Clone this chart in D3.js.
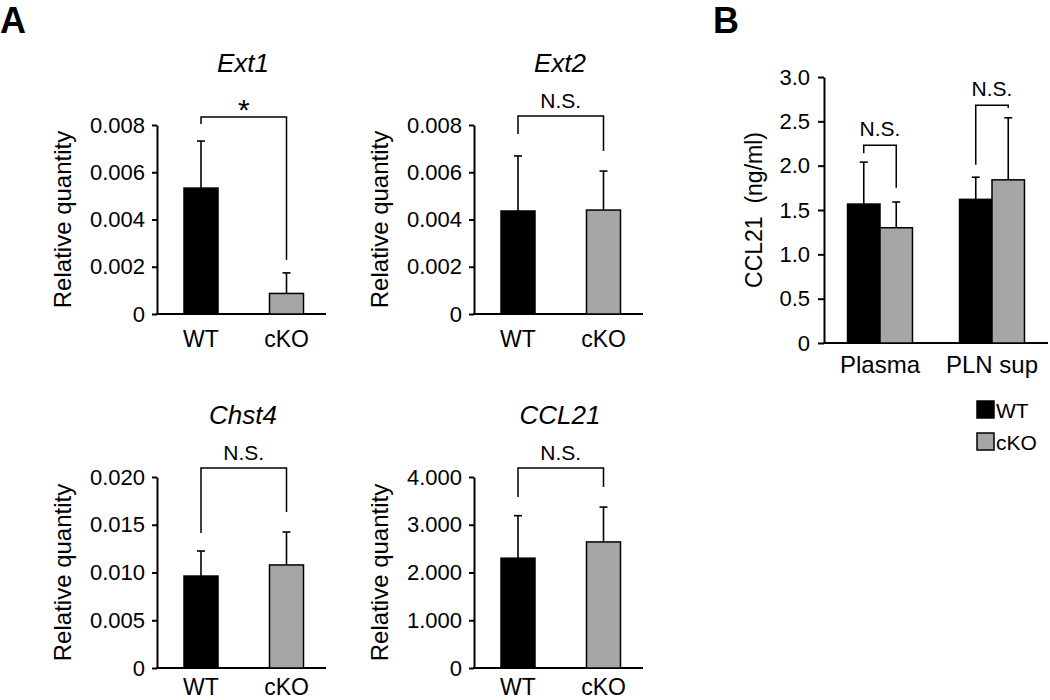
<!DOCTYPE html>
<html><head><meta charset="utf-8">
<script src="https://cdn.jsdelivr.net/npm/d3@7"></script>
<style>body{margin:0;background:#fff}svg{display:block;font-family:"Liberation Sans",Arial,sans-serif}</style>
</head><body>
<svg id="c" width="1050" height="700"></svg>
<script>
// ---------- data ----------
const groups = ["WT", "cKO"];

const ext1Values = [0.00533, 0.00087];
const ext1Errors = [0.00199, 0.00087];
const ext1Ticks = ["0", "0.002", "0.004", "0.006", "0.008"];
const ext1Bracket = [0.00834, 0.00804, 0.00229]; // top, left end, right end

const ext2Values = [0.00436, 0.00440];
const ext2Errors = [0.00233, 0.00165];
const ext2Ticks = ["0", "0.002", "0.004", "0.006", "0.008"];
const ext2Bracket = [0.00838, 0.00762, 0.00690];

const chst4Values = [0.00963, 0.01079];
const chst4Errors = [0.00262, 0.00345];
const chst4Ticks = ["0", "0.005", "0.010", "0.015", "0.020"];
const chst4Bracket = [0.02094, 0.01414, 0.01634];

const ccl21Values = [2.30, 2.64];
const ccl21Errors = [0.89, 0.73];
const ccl21Ticks = ["0", "1.000", "2.000", "3.000", "4.000"];
const ccl21Bracket = [4.19, 3.58, 3.79];

const bCategories = ["Plasma", "PLN sup"];
const bWT = [1.567, 1.62];
const bWTErr = [0.473, 0.25];
const bCKO = [1.30, 1.84];
const bCKOErr = [0.29, 0.70];
const bTicks = ["0", "0.5", "1.0", "1.5", "2.0", "2.5", "3.0"];
const bBrackets = [[2.23, 2.14, 1.75], [2.68, 2.01, 2.65]];

// ---------- drawing ----------
const svg = d3.select("#c");
const FILL = {WT: "#000000", cKO: "#a6a6a6"};

function errBar(g, x, y0, y1) {
  g.append("line").attr("x1", x).attr("x2", x).attr("y1", y0).attr("y2", y1)
    .attr("stroke", "#000").attr("stroke-width", 1.6);
  g.append("line").attr("x1", x - 4).attr("x2", x + 4).attr("y1", y1).attr("y2", y1)
    .attr("stroke", "#000").attr("stroke-width", 1.6);
}
function bracket(g, xl, xr, ty, yl, yr, label, fs, dy) {
  g.append("path").attr("d", `M${xl},${yl}V${ty}H${xr}V${yr}`)
    .attr("fill", "none").attr("stroke", "#000").attr("stroke-width", 1.5);
  g.append("text").attr("x", (xl + xr) / 2).attr("y", ty - dy).attr("text-anchor", "middle")
    .attr("font-size", fs).text(label);
}

function panelA(opt) {
  const g = svg.append("g");
  const y = d3.scaleLinear().domain([0, opt.max]).range([opt.y0, opt.y1]);
  const x = d3.scalePoint().domain(groups).range([opt.ax + 44, opt.ax + 129.5]);
  const tickVals = opt.ticks.map((t, i) => opt.max * i / (opt.ticks.length - 1));
  const yAxis = d3.axisLeft(y).tickValues(tickVals).tickFormat((d, i) => opt.ticks[i])
    .tickSize(5).tickPadding(7).tickSizeOuter(0);
  const ga = g.append("g").attr("transform", `translate(${opt.ax},0)`).call(yAxis);
  ga.select(".domain").attr("stroke-width", 2);
  ga.selectAll(".tick line").attr("stroke-width", 2);
  ga.selectAll("text").attr("font-size", 22).attr("font-family", "Liberation Sans, Arial").attr("fill", "#000");
  // x axis
  g.append("line").attr("x1", opt.ax - 1).attr("x2", opt.ax + 169).attr("y1", opt.y0).attr("y2", opt.y0)
    .attr("stroke", "#000").attr("stroke-width", 2);
  const bw = 34;
  groups.forEach((k, i) => {
    const v = opt.values[i];
    errBar(g, x(k), y(v), y(v + opt.errors[i]));
    g.append("rect").attr("x", x(k) - bw / 2).attr("y", y(v)).attr("width", bw).attr("height", opt.y0 - y(v))
      .attr("fill", FILL[k]).attr("stroke", "#000").attr("stroke-width", 1.5);
    g.append("text").attr("x", x(k)).attr("y", opt.y0 + opt.xlab).attr("text-anchor", "middle")
      .attr("font-size", 23).text(k);
  });
  const star = opt.sig === "*";
  bracket(g, x("WT"), x("cKO"), y(opt.bracket[0]), y(opt.bracket[1]), y(opt.bracket[2]),
    opt.sig, star ? 30 : 21, star ? -3 : 8);
  g.append("text").attr("x", opt.ax + 86).attr("y", opt.y1 - 53).attr("text-anchor", "middle")
    .attr("font-size", 26).attr("font-style", "italic").text(opt.title);
  g.append("text").attr("transform", `translate(${opt.ax - 86},${(opt.y0 + opt.y1) / 2}) rotate(-90)`)
    .attr("text-anchor", "middle").attr("font-size", 24).text("Relative quantity");
}

panelA({ax: 157, y0: 314, y1: 125, max: 0.008, ticks: ext1Ticks, values: ext1Values, errors: ext1Errors,
  bracket: ext1Bracket, sig: "*", title: "Ext1", xlab: 33});
panelA({ax: 474, y0: 314, y1: 125, max: 0.008, ticks: ext2Ticks, values: ext2Values, errors: ext2Errors,
  bracket: ext2Bracket, sig: "N.S.", title: "Ext2", xlab: 33});
panelA({ax: 157, y0: 668, y1: 477, max: 0.020, ticks: chst4Ticks, values: chst4Values, errors: chst4Errors,
  bracket: chst4Bracket, sig: "N.S.", title: "Chst4", xlab: 27});
panelA({ax: 474, y0: 668, y1: 477, max: 4, ticks: ccl21Ticks, values: ccl21Values, errors: ccl21Errors,
  bracket: ccl21Bracket, sig: "N.S.", title: "CCL21", xlab: 27});

// Panel B
(function () {
  const g = svg.append("g");
  const ax = 824, y0 = 343, y1 = 77;
  const y = d3.scaleLinear().domain([0, 3]).range([y0, y1]);
  const x0 = d3.scaleBand().domain(bCategories).range([ax, 1048]).paddingInner(0.42).paddingOuter(0.21);
  const x1 = d3.scaleBand().domain(groups).range([0, x0.bandwidth()]);
  const tickVals = bTicks.map((t, i) => 3 * i / (bTicks.length - 1));
  const ga = g.append("g").attr("transform", `translate(${ax},0)`)
    .call(d3.axisLeft(y).tickValues(tickVals).tickFormat((d, i) => bTicks[i]).tickSize(6).tickPadding(8).tickSizeOuter(0));
  ga.select(".domain").attr("stroke-width", 2);
  ga.selectAll(".tick line").attr("stroke-width", 2);
  ga.selectAll("text").attr("font-size", 22).attr("font-family", "Liberation Sans, Arial").attr("fill", "#000");
  g.append("line").attr("x1", ax - 1).attr("x2", 1048).attr("y1", y0).attr("y2", y0)
    .attr("stroke", "#000").attr("stroke-width", 2);
  const series = {WT: [bWT, bWTErr], cKO: [bCKO, bCKOErr]};
  bCategories.forEach((c, ci) => {
    groups.forEach(k => {
      const v = series[k][0][ci], e = series[k][1][ci];
      const cx = x0(c) + x1(k) + x1.bandwidth() / 2;
      errBar(g, cx, y(v), y(v + e));
      g.append("rect").attr("x", x0(c) + x1(k)).attr("y", y(v)).attr("width", x1.bandwidth())
        .attr("height", y0 - y(v)).attr("fill", FILL[k]).attr("stroke", "#000").attr("stroke-width", 1.5);
    });
    const xl = x0(c) + x1("WT") + x1.bandwidth() / 2, xr = x0(c) + x1("cKO") + x1.bandwidth() / 2;
    bracket(g, xl, xr, y(bBrackets[ci][0]), y(bBrackets[ci][1]), y(bBrackets[ci][2]), "N.S.", 21, 9);
    g.append("text").attr("x", x0(c) + x0.bandwidth() / 2).attr("y", 373).attr("text-anchor", "middle")
      .attr("font-size", 24).text(c);
  });
  g.append("text").attr("transform", `translate(${ax - 62},${(y0 + y1) / 2}) rotate(-90)`)
    .attr("text-anchor", "middle").attr("font-size", 23).attr("xml:space", "preserve").text("CCL21  (ng/ml)");
  // legend
  groups.forEach((k, i) => {
    g.append("rect").attr("x", 977).attr("y", 401 + i * 32).attr("width", 17).attr("height", 17)
      .attr("fill", FILL[k]).attr("stroke", "#000").attr("stroke-width", 1.5);
    g.append("text").attr("x", 996).attr("y", 418 + i * 32).attr("font-size", 21).text(k);
  });
})();

svg.append("text").attr("x", 0).attr("y", 33).attr("font-size", 36).attr("font-weight", "bold").text("A");
svg.append("text").attr("x", 713).attr("y", 33).attr("font-size", 36).attr("font-weight", "bold").text("B");
</script>
</body></html>
